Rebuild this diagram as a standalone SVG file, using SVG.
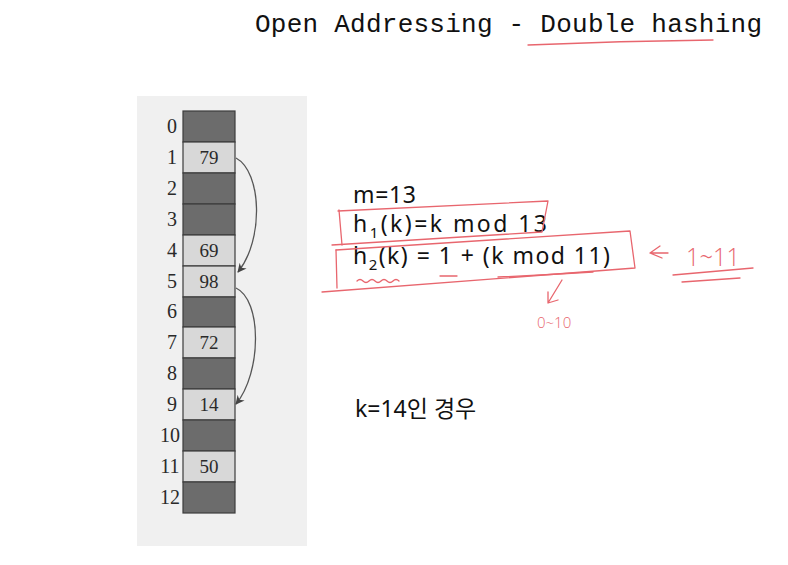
<svg xmlns="http://www.w3.org/2000/svg" width="788" height="565" viewBox="0 0 788 565">
<defs>
<style>
.idx{font-family:"Liberation Serif",serif;font-size:20px;fill:#2a2a2a;text-anchor:middle}
.val{font-family:"Liberation Serif",serif;font-size:19px;fill:#2a2a2a;text-anchor:middle}
.dark{fill:#6c6c6c;stroke:#3c3c3c;stroke-width:1.2}
.light{fill:#d8d8d8;stroke:#3c3c3c;stroke-width:1.2}
.txt{font-family:"Noto Sans","Noto Sans CJK KR",sans-serif;font-size:23px;fill:#111}
.sub{font-size:15px}
.red{fill:none;stroke:#e8666e;stroke-width:1.3;stroke-linecap:round;stroke-linejoin:round}
.redt{font-family:"Open Sans","Liberation Sans",sans-serif;font-weight:300;fill:#e8666e}
.conn{fill:none;stroke:#555;stroke-width:1.3}
</style>
<marker id="ah" viewBox="0 0 10 10" refX="9" refY="5" markerWidth="9" markerHeight="9" orient="auto" markerUnits="userSpaceOnUse">
<path d="M0,0 L10,5 L0,10 L3,5 Z" fill="#444"/>
</marker>
</defs>
<rect width="788" height="565" fill="#fff"/>
<text x="255" y="32" font-family="Liberation Mono,monospace" font-size="26" textLength="507" fill="#111">Open Addressing - Double hashing</text>
<path class="red" d="M528,45 Q620,41 713,40"/>
<rect x="137" y="96" width="170" height="450" fill="#f0f0f0"/>
<g id="table">
<rect class="dark" x="183" y="111" width="52" height="31"/>
<rect class="light" x="183" y="142" width="52" height="31"/>
<rect class="dark" x="183" y="173" width="52" height="31"/>
<rect class="dark" x="183" y="204" width="52" height="31"/>
<rect class="light" x="183" y="235" width="52" height="31"/>
<rect class="light" x="183" y="266" width="52" height="31"/>
<rect class="dark" x="183" y="297" width="52" height="30"/>
<rect class="light" x="183" y="327" width="52" height="31"/>
<rect class="dark" x="183" y="358" width="52" height="31"/>
<rect class="light" x="183" y="389" width="52" height="31"/>
<rect class="dark" x="183" y="420" width="52" height="31"/>
<rect class="light" x="183" y="451" width="52" height="31"/>
<rect class="dark" x="183" y="482" width="52" height="31"/>
</g>
<g id="indices">
<text class="idx" x="172" y="133">0</text>
<text class="idx" x="172" y="164">1</text>
<text class="idx" x="172" y="195">2</text>
<text class="idx" x="172" y="226">3</text>
<text class="idx" x="172" y="257">4</text>
<text class="idx" x="172" y="288">5</text>
<text class="idx" x="172" y="318">6</text>
<text class="idx" x="172" y="349">7</text>
<text class="idx" x="172" y="380">8</text>
<text class="idx" x="172" y="411">9</text>
<text class="idx" x="170" y="442">10</text>
<text class="idx" x="170" y="473">11</text>
<text class="idx" x="170" y="504">12</text>
</g>
<g id="values">
<text class="val" x="209" y="164">79</text>
<text class="val" x="209" y="257">69</text>
<text class="val" x="209" y="288">98</text>
<text class="val" x="209" y="349">72</text>
<text class="val" x="209" y="411">14</text>
<text class="val" x="209" y="473">50</text>
</g>
<g id="connectors">
<path class="conn" d="M236,158 C262,172 264,240 238,272" marker-end="url(#ah)"/>
<path class="conn" d="M236,288 C262,300 262,372 236,404" marker-end="url(#ah)"/>
</g>
<g id="formulas">
<text class="txt" x="353" y="203" textLength="63">m=13</text>
<text class="txt" x="353" y="232" textLength="194">h<tspan class="sub" dy="6">1</tspan><tspan dy="-6">(k)=k mod 13</tspan></text>
<text class="txt" x="353" y="264" textLength="257">h<tspan class="sub" dy="6">2</tspan><tspan dy="-6">(k) = 1 + (k mod 11)</tspan></text>
<text class="txt" x="355" y="417" font-size="22">k=14인 경우</text>
</g>
<g id="annotations">
<path class="red" d="M338,211 L548,201 L542,232 L332,245"/>
<path class="red" d="M339,210 L342,245"/>
<path class="red" d="M336,250 L630,231 L635,268 L322,292"/>
<path class="red" d="M336,250 L337,288"/>
<path class="red" d="M357,281 q3,-3 6,0 q3,3 6,0 q3,-3 6,0 q3,3 6,0 q3,-3 6,0 q3,3 6,0 q3,-3 6,0"/>
<path class="red" d="M440,276 L457,276" stroke-width="2.5"/>
<path class="red" d="M498,277 Q545,275 593,272"/>
<path class="red" d="M562,280 L548,303 M548,292 L548,303 L558,300"/>
<text class="redt" x="537" y="328" font-size="15">0~10</text>
<path class="red" d="M660,246 L650,253 L662,258 M650,253 L668,253"/>
<text class="redt" x="686" y="266" font-size="26" textLength="54" lengthAdjust="spacingAndGlyphs">1~11</text>
<path class="red" d="M673,275 L753,268 M682,282 L740,278"/>
</g>
</svg>
